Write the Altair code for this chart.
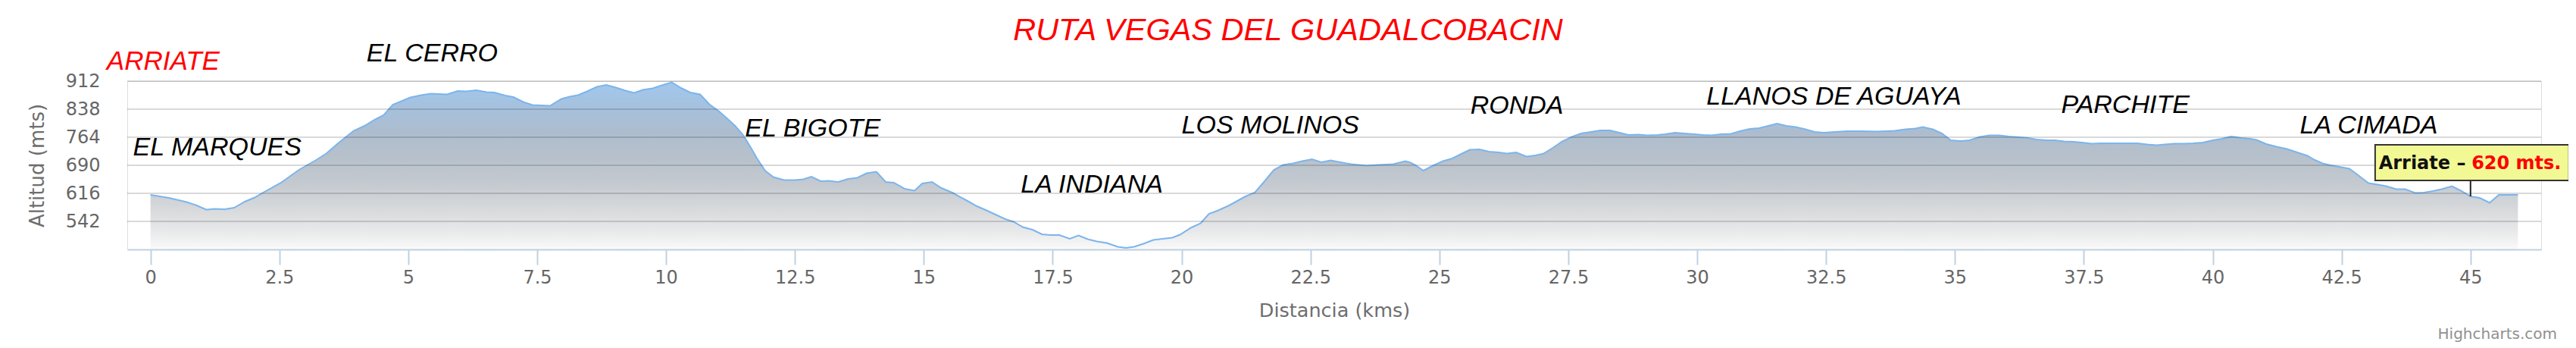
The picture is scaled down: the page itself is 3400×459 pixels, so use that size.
import altair as alt
import pandas as pd

# ---- elevation profile (distance in km, altitude in m) ----
km = [0.00, 0.36, 0.70, 0.88, 1.08, 1.25, 1.44, 1.62, 1.83, 2.02, 2.25, 2.52, 2.88, 3.20, 3.41,
      3.62, 3.94, 4.15, 4.36, 4.52, 4.70, 5.04, 5.25, 5.44, 5.75, 5.96, 6.12, 6.32, 6.52, 6.67,
      6.88, 7.04, 7.23, 7.41, 7.75, 7.97, 8.13, 8.29, 8.47, 8.66, 8.84, 9.03, 9.21, 9.38, 9.55,
      9.74, 9.92, 10.11, 10.29, 10.47, 10.66, 10.84, 11.03, 11.18, 11.34, 11.50, 11.66, 11.76,
      11.92, 12.08, 12.29, 12.50, 12.66, 12.82, 13.00, 13.16, 13.34, 13.53, 13.71, 13.89, 14.08,
      14.26, 14.42, 14.63, 14.82, 14.97, 15.16, 15.34, 15.55, 15.82, 16.03, 16.20, 16.39, 16.58,
      16.74, 16.92, 17.11, 17.29, 17.45, 17.63, 17.83, 18.00, 18.18, 18.36, 18.55, 18.76, 18.92,
      19.08, 19.26, 19.45, 19.63, 19.82, 19.97, 20.18, 20.37, 20.53, 20.71, 20.92, 21.08, 21.24,
      21.42, 21.61, 21.79, 21.97, 22.16, 22.34, 22.53, 22.71, 22.89, 23.08, 23.29, 23.58, 23.82,
      24.11, 24.34, 24.44, 24.54, 24.69, 24.86, 25.07, 25.25, 25.44, 25.59, 25.78, 25.96, 26.15,
      26.31, 26.49, 26.69, 26.86, 27.02, 27.20, 27.38, 27.57, 27.75, 27.94, 28.12, 28.31, 28.49,
      28.67, 28.86, 29.04, 29.23, 29.38, 29.57, 29.75, 29.94, 30.12, 30.28, 30.46, 30.65, 30.83,
      31.02, 31.20, 31.38, 31.55, 31.73, 31.91, 32.10, 32.28, 32.46, 32.67, 32.91, 33.17, 33.49,
      33.83, 34.04, 34.23, 34.38, 34.57, 34.75, 34.92, 35.12, 35.28, 35.49, 35.67, 35.86, 36.04,
      36.23, 36.41, 36.59, 36.78, 36.94, 37.12, 37.31, 37.46, 37.65, 37.83, 38.02, 38.20, 38.38,
      38.54, 38.73, 38.91, 39.07, 39.25, 39.44, 39.62, 39.81, 40.00, 40.18, 40.36, 40.55, 40.73,
      40.85, 41.04, 41.24, 41.44, 41.64, 41.84, 41.98, 42.13, 42.28, 42.45, 42.65, 42.82, 43.02,
      43.16, 43.36, 43.56, 43.73, 43.93, 44.10, 44.27, 44.44, 44.64, 44.81, 45.00, 45.18, 45.37,
      45.55, 45.72, 45.92]
altitude = [612, 604, 593, 585, 573, 575, 574, 578, 594, 605, 623, 643, 678, 703, 721,
            746, 781, 794, 811, 822, 850, 869, 875, 879, 877, 886, 885, 888, 883, 882,
            874, 870, 857, 849, 847, 865, 871, 875, 885, 897, 902, 895, 887, 881, 889,
            893, 901, 909, 894, 882, 877, 851, 832, 814, 794, 769, 733, 709,
            676, 659, 651, 651, 653, 660, 648, 649, 646, 654, 657, 669, 673,
            646, 644, 628, 623, 642, 646, 630, 618, 598, 582, 572, 560, 548,
            541, 527, 520, 508, 506, 506, 496, 505, 495, 489, 485, 475, 472,
            475, 483, 493, 496, 499, 507, 525, 537, 562, 571, 584, 596, 608,
            618, 648, 678, 691, 695, 701, 706, 698, 703, 698, 693, 689, 691,
            693, 701, 697, 690, 676, 688, 701, 708, 721, 731, 732, 726, 724,
            721, 724, 713, 716, 721, 736, 753, 765, 774, 778, 782, 782, 776,
            770, 771, 769, 770, 772, 776, 774, 772, 770, 769, 772, 773, 780,
            786, 788, 794, 800, 794, 791, 785, 778, 776, 778, 780, 780, 779,
            781, 785, 787, 791, 785, 774, 756, 754, 756, 765, 769, 769, 766,
            764, 762, 758, 756, 756, 753, 752, 750, 747, 748, 748, 748, 748,
            748, 745, 743, 745, 747, 747, 748, 750, 756, 760, 766, 762, 760,
            757, 746, 739, 733, 724, 715, 704, 695, 690, 686, 681, 664, 643,
            640, 635, 627, 627, 617, 618, 622, 627, 635, 623, 608, 604, 591,
            612, 612, 612]

# ---- place names along the route (anchored at km / altitude) ----
place_names = ["EL MARQUES", "EL CERRO", "EL BIGOTE", "LA INDIANA", "LOS MOLINOS",
               "RONDA", "LLANOS DE AGUAYA", "PARCHITE", "LA CIMADA"]
place_km = [-0.34, 4.19, 11.53, 16.88, 20.0, 25.6, 30.18, 37.06, 41.69]
place_alt = [716, 964, 766, 618, 774, 826, 850, 828, 774]

start_names = ["ARRIATE"]
start_km = [-0.85]
start_alt = [942]

# ---- axes ----
y_ticks = [542, 616, 690, 764, 838, 912]
x_ticks = [0, 2.5, 5, 7.5, 10, 12.5, 15, 17.5, 20, 22.5, 25, 27.5, 30, 32.5, 35, 37.5, 40, 42.5, 45]
x_title = "Distancia (kms)"
y_title = "Altitud (mts)"
chart_title = "RUTA VEGAS DEL GUADALCOBACIN"
credit = "Highcharts.com"

# ---- tooltip shown on the chart ----
tip_name = ["Arriate – "]
tip_value = ["620 mts."]
tip_km = [45.0]
tip_point_alt = [608]
tip_box_km = [43.15]
tip_box_km2 = [46.91]
tip_box_alt = [650]
tip_box_alt2 = [744]
tip_text_km = [43.22]
tip_value_km = [45.02]
tip_text_alt = [681]

profile = pd.DataFrame({"km": km, "alt": altitude})
places = pd.DataFrame({"name": place_names, "km": place_km, "alt": place_alt})
start = pd.DataFrame({"name": start_names, "km": start_km, "alt": start_alt})
grid = pd.DataFrame({"alt": y_ticks})
tip = pd.DataFrame({"name": tip_name, "value": tip_value, "km": tip_km, "pt": tip_point_alt,
                    "bx": tip_box_km, "bx2": tip_box_km2, "by": tip_box_alt, "by2": tip_box_alt2,
                    "tx": tip_text_km, "vx": tip_value_km, "ty": tip_text_alt})
misc = pd.DataFrame({"title": [chart_title], "credit": [credit]})

xscale = alt.Scale(domain=[-0.45, 46.37], nice=False, zero=False)
yscale = alt.Scale(domain=[468, 912], nice=False, zero=False)

x_axis = alt.Axis(values=x_ticks, format="~g", labelFont="DejaVu Sans", labelFontSize=24,
                  labelColor="#666666", labelPadding=5, labelFlush=False, labelOverlap=False,
                  domainColor="#C0D0E0", domainWidth=2, tickColor="#C0D0E0", tickWidth=2,
                  tickSize=20, grid=False, title=x_title, titleFont="DejaVu Sans",
                  titleFontSize=25.5, titleFontWeight="normal", titleColor="#6e6e6e",
                  titleBaseline="alphabetic", titleY=88, zindex=1)
y_axis = alt.Axis(values=y_ticks, domain=False, ticks=False, tickSize=0, grid=False,
                  labelFont="DejaVu Sans", labelFontSize=24, labelColor="#666666",
                  labelPadding=36, title=y_title, titleFont="DejaVu Sans", titleFontSize=26,
                  titleFontWeight="normal", titleColor="#6e6e6e", titleAngle=270,
                  titleX=-111, titleY=111, titleAlign="center", titleBaseline="alphabetic")

gradient = alt.Gradient(
    gradient="linear", x1=0, x2=0, y1=0, y2=1,
    stops=[alt.GradientStop(color="#79b0e6", offset=0.0),
           alt.GradientStop(color="#7fa6cf", offset=0.15),
           alt.GradientStop(color="#8aa0b8", offset=0.3),
           alt.GradientStop(color="#98a6b5", offset=0.45),
           alt.GradientStop(color="#aab2bb", offset=0.6),
           alt.GradientStop(color="#c4c7cb", offset=0.75),
           alt.GradientStop(color="#e0e1e2", offset=0.9),
           alt.GradientStop(color="#f8f8f8", offset=1.0)])

area = alt.Chart(profile).mark_area(
    color=gradient, line={"color": "#7cb5ec", "strokeWidth": 2}
).encode(
    x=alt.X("km:Q", scale=xscale, axis=x_axis),
    y=alt.Y("alt:Q", scale=yscale, axis=y_axis),
    y2=alt.datum(468),
)

gridlines = alt.Chart(grid).mark_rule(color="black", opacity=0.15, strokeWidth=2).encode(
    y=alt.Y("alt:Q", scale=yscale)
)

connector = alt.Chart(tip).mark_rule(color="#222222", strokeWidth=2).encode(
    x=alt.X("km:Q", scale=xscale), y=alt.Y("by:Q", scale=yscale), y2="pt:Q"
)
box = alt.Chart(tip).mark_rect(fill="#f2f994", stroke="#333333", strokeWidth=2).encode(
    x=alt.X("bx:Q", scale=xscale), x2="bx2:Q",
    y=alt.Y("by:Q", scale=yscale), y2="by2:Q"
)
tip_label = alt.Chart(tip).mark_text(
    font="DejaVu Sans", fontWeight="bold", fontSize=24, color="#111111",
    align="left", baseline="alphabetic"
).encode(x=alt.X("tx:Q", scale=xscale), y=alt.Y("ty:Q", scale=yscale), text="name:N")
tip_val = alt.Chart(tip).mark_text(
    font="DejaVu Sans", fontWeight="bold", fontSize=24, color="#ff0000",
    align="left", baseline="alphabetic"
).encode(x=alt.X("vx:Q", scale=xscale), y=alt.Y("ty:Q", scale=yscale), text="value:N")

place_text = alt.Chart(places).mark_text(
    font="Liberation Sans", fontStyle="italic", fontSize=34, color="black",
    align="left", baseline="alphabetic"
).encode(x=alt.X("km:Q", scale=xscale), y=alt.Y("alt:Q", scale=yscale), text="name:N")

start_text = alt.Chart(start).mark_text(
    font="Liberation Sans", fontStyle="italic", fontSize=35, color="#ff0000",
    align="left", baseline="alphabetic"
).encode(x=alt.X("km:Q", scale=xscale), y=alt.Y("alt:Q", scale=yscale), text="name:N")

title_text = alt.Chart(misc).mark_text(
    font="Liberation Sans", fontStyle="italic", fontSize=41.5, color="#ff0000",
    align="center", baseline="alphabetic"
).encode(x=alt.value(1532), y=alt.value(-54), text="title:N")

credit_text = alt.Chart(misc).mark_text(
    font="DejaVu Sans", fontSize=20, color="#909090", align="right", baseline="alphabetic"
).encode(x=alt.value(3207), y=alt.value(340), text="credit:N")

chart = alt.layer(
    area, gridlines, connector, box, tip_label, tip_val, place_text, start_text,
    title_text, credit_text
).properties(
    width=3186, height=222,
    autosize=alt.AutoSizeParams(type="none"),
    padding={"left": 160, "top": 99, "right": 36, "bottom": 128},
).configure_view(stroke=None).configure(background="white")

chart.save("out.html", embed_options={"renderer": "svg", "actions": False})
